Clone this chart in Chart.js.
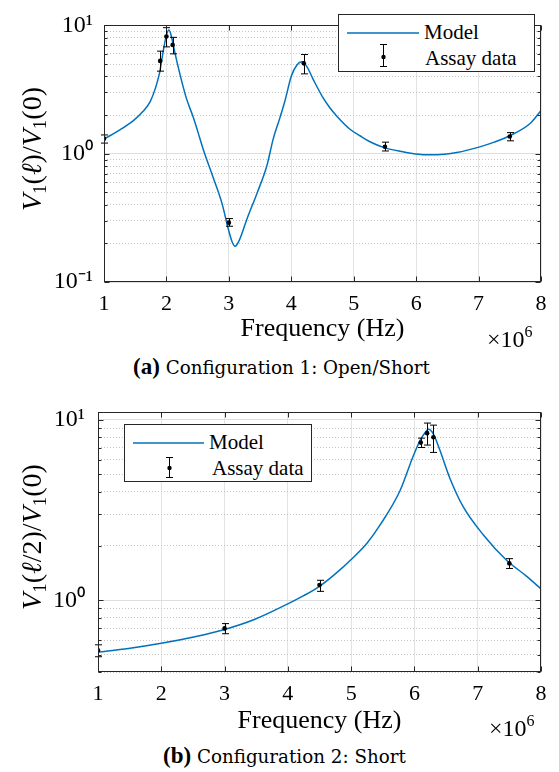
<!DOCTYPE html>
<html><head><meta charset="utf-8">
<script src="https://cdn.jsdelivr.net/npm/chart.js@4.4.1/dist/chart.umd.min.js"></script>
<style>
body{margin:0;background:#fff;width:559px;height:772px;position:relative;overflow:hidden;font-family:"Liberation Serif","Times New Roman",serif;color:#000}
canvas{position:absolute;left:0}
#c1{top:0}
#c2{top:385px}
.abs{position:absolute;white-space:nowrap}
.ylab{font-size:28px;transform:translate(-50%,-50%) rotate(-90deg);}
.ylab sub{font-size:19px;vertical-align:-5px;font-style:normal}
.legend{position:absolute;border:1px solid #262626;background:#fff;box-sizing:border-box}
.legend .t{position:absolute;font-size:21px;line-height:21px;white-space:nowrap}
.legend svg{position:absolute;left:0;top:0}
.times{font-size:24px}
.times sup{font-size:16px;vertical-align:10px}
.cap{font-family:"DejaVu Serif",serif;font-size:18.3px}
.cap b{font-family:"Liberation Serif","Times New Roman",serif;font-size:23px}
</style></head>
<body>
<canvas id="c1" width="559" height="345"></canvas>
<canvas id="c2" width="559" height="352"></canvas>

<div class="abs ylab" style="left:33px;top:149px"><i>V</i><sub>1</sub>(<i>ℓ</i>)/<i>V</i><sub>1</sub>(0)</div>
<div class="abs ylab" style="left:33px;top:537px"><i>V</i><sub>1</sub>(<i>ℓ</i>/2)/<i>V</i><sub>1</sub>(0)</div>

<div class="legend" style="left:338px;top:14px;width:197px;height:58px">
  <svg width="197" height="58">
    <line x1="8" y1="18" x2="80" y2="18" stroke="#0072BD" stroke-width="1.5"/>
    <line x1="44.5" y1="29" x2="44.5" y2="52" stroke="#000" stroke-width="1"/>
    <line x1="41" y1="29.5" x2="48" y2="29.5" stroke="#000" stroke-width="1"/>
    <line x1="41" y1="51.5" x2="48" y2="51.5" stroke="#000" stroke-width="1"/>
    <circle cx="44.5" cy="42" r="2.2" fill="#000"/>
  </svg>
  <div class="t" style="left:85px;top:7px">Model</div>
  <div class="t" style="left:86px;top:33px">Assay data</div>
</div>
<div class="legend" style="left:124px;top:424px;width:188px;height:58px">
  <svg width="188" height="58">
    <line x1="8" y1="18" x2="79" y2="18" stroke="#0072BD" stroke-width="1.5"/>
    <line x1="44.5" y1="32" x2="44.5" y2="53" stroke="#000" stroke-width="1"/>
    <line x1="41" y1="32.5" x2="48" y2="32.5" stroke="#000" stroke-width="1"/>
    <line x1="41" y1="52.5" x2="48" y2="52.5" stroke="#000" stroke-width="1"/>
    <circle cx="44.5" cy="43" r="2.2" fill="#000"/>
  </svg>
  <div class="t" style="left:84px;top:7px">Model</div>
  <div class="t" style="left:87px;top:33px">Assay data</div>
</div>

<div class="abs times" style="left:487px;top:323px">×10<sup>6</sup></div>
<div class="abs times" style="left:489px;top:712px">×10<sup>6</sup></div>
<div class="abs cap" style="left:133px;top:354px"><b>(a)</b> Configuration 1: Open/Short</div>
<div class="abs cap" style="left:163px;top:743px"><b>(b)</b> Configuration 2: Short</div>

<script>
// ---------- Data: Configuration 1 (Open/Short) ----------
const modelFreqA = [1.0,1.26,1.47,1.63,1.74,1.82,1.89,1.95,2.0,2.04,2.08,2.14,2.22,2.32,2.43,2.5,2.59,2.75,2.89,2.99,3.05,3.1,3.17,3.29,3.45,3.61,3.71,3.82,3.9,4.0,4.09,4.17,4.25,4.35,4.51,4.62,4.73,4.94,5.1,5.26,5.5,5.79,6.0,6.22,6.45,6.65,7.02,7.25,7.5,7.82,8.0];
const modelA     = [1.30,1.54,1.81,2.15,2.55,3.2,4.26,6.35,8.4,9.2,8.2,6.0,4.1,2.7,1.92,1.5,1.08,0.65,0.41,0.26,0.207,0.19,0.213,0.31,0.49,0.81,1.3,1.92,2.6,4.02,4.92,5.2,4.77,3.8,2.72,2.27,1.96,1.55,1.38,1.24,1.11,1.035,0.995,0.98,0.99,1.02,1.13,1.23,1.38,1.71,2.17];
const assayFreqA = [1.0,1.9,2.0,2.1,3.0,4.2,5.5,7.5];
const assayA     = [1.31,5.29,8.2,7.05,0.29,5.06,1.133,1.36];
const assayLowA  = [1.21,4.4,6.8,6.0,0.272,4.19,1.05,1.26];
const assayHighA = [1.40,6.3,9.6,8.07,0.312,5.93,1.23,1.46];

// ---------- Data: Configuration 2 (Short) ----------
const modelFreqB = [1.0,1.48,2.0,2.53,3.0,3.48,4.0,4.25,4.5,4.75,5.03,5.25,5.45,5.77,5.98,6.09,6.17,6.22,6.3,6.4,6.56,6.77,7.09,7.46,7.77,8.0];
const modelB     = [0.516,0.540,0.577,0.628,0.689,0.785,0.955,1.06,1.195,1.40,1.72,2.07,2.59,4.03,6.29,7.70,8.51,8.86,8.34,6.82,4.75,3.30,2.30,1.66,1.36,1.156];
const assayFreqB = [1.0,3.0,4.5,6.1,6.2,6.3,7.5];
const assayB     = [0.527,0.698,1.214,7.48,8.44,8.01,1.60];
const assayLowB  = [0.486,0.652,1.12,7.03,7.25,6.6,1.50];
const assayHighB = [0.566,0.742,1.29,7.92,9.6,9.35,1.70];

// ---------- Tick labels ----------
const xTicks = [1,2,3,4,5,6,7,8];
const yMajorA = [0.1,1,10];
const yMinorA = [0.2,0.3,0.4,0.5,0.6,0.7,0.8,0.9,2,3,4,5,6,7,8,9];
const yMajorB = [1,10];
const yMinorB = [0.4,0.5,0.6,0.7,0.8,0.9,2,3,4,5,6,7,8,9];
const yTickText = {'-1':'10⁻¹','0':'10⁰','1':'10¹'};

const BLUE = '#0072BD';
const AXIS = '#262626';
const SERIF = '"Liberation Serif", "Times New Roman", serif';

const errBarPlugin = {
  id: 'errbars',
  afterDatasetsDraw(chart, args, opts) {
    const {ctx, scales} = chart, x = scales.x, y = scales.y;
    ctx.save();
    ctx.strokeStyle = '#000'; ctx.lineWidth = 1;
    opts.xs.forEach((f, i) => {
      const px = Math.round(x.getPixelForValue(f)) + 0.5;
      const pl = y.getPixelForValue(opts.lo[i]);
      const ph = y.getPixelForValue(opts.hi[i]);
      ctx.beginPath();
      ctx.moveTo(px, pl); ctx.lineTo(px, ph);
      ctx.moveTo(px - 3.5, pl); ctx.lineTo(px + 3.5, pl);
      ctx.moveTo(px - 3.5, ph); ctx.lineTo(px + 3.5, ph);
      ctx.stroke();
    });
    ctx.restore();
  }
};

const boxPlugin = {
  id: 'box',
  afterDraw(chart, args, opts) {
    const {ctx, chartArea: a, scales} = chart;
    ctx.save();
    ctx.strokeStyle = AXIS; ctx.lineWidth = 1;
    const L = Math.round(a.left) + 0.5, R = Math.round(a.right) - 0.5,
          T = Math.round(a.top) + 0.5, B = Math.round(a.bottom) - 0.5;
    ctx.beginPath();
    xTicks.forEach(v => {
      const px = Math.round(scales.x.getPixelForValue(v)) + 0.5;
      ctx.moveTo(px, B); ctx.lineTo(px, B - 5);
      ctx.moveTo(px, T); ctx.lineTo(px, T + 5);
    });
    opts.major.forEach(v => {
      const py = Math.round(scales.y.getPixelForValue(v)) + 0.5;
      ctx.moveTo(L, py); ctx.lineTo(L + 5, py);
      ctx.moveTo(R, py); ctx.lineTo(R - 5, py);
    });
    opts.minor.forEach(v => {
      const py = Math.round(scales.y.getPixelForValue(v)) + 0.5;
      ctx.moveTo(L, py); ctx.lineTo(L + 3, py);
      ctx.moveTo(R, py); ctx.lineTo(R - 3, py);
    });
    ctx.stroke();
    ctx.strokeRect(L, T, R - L, B - T);
    ctx.restore();
  }
};

function makeChart(id, cfg) {
  const toXY = (xs, ys) => xs.map((v, i) => ({x: v, y: ys[i]}));
  return new Chart(document.getElementById(id), {
    type: 'line',
    data: {
      datasets: [
        {label: 'Model', data: toXY(cfg.mf, cfg.mv), borderColor: BLUE, borderWidth: 1.5,
         pointRadius: 0, fill: false, cubicInterpolationMode: 'monotone', order: 1},
        {label: 'Assay data', data: toXY(cfg.af, cfg.av), showLine: false,
         pointRadius: 2.3, pointBackgroundColor: '#000', pointBorderColor: '#000', pointBorderWidth: 0, order: 0}
      ]
    },
    options: {
      responsive: false, animation: false, devicePixelRatio: 1,
      layout: {padding: {left: 0, top: cfg.padTop, right: 18, bottom: 0}},
      plugins: {
        legend: {display: false}, tooltip: {enabled: false},
        errbars: {xs: cfg.af, lo: cfg.lo, hi: cfg.hi},
        box: {major: cfg.major, minor: cfg.minor}
      },
      scales: {
        x: {
          type: 'linear', min: 1, max: 8,
          afterBuildTicks: s => { s.ticks = xTicks.map(v => ({value: v})); },
          afterFit: s => { s.height = cfg.xH; },
          ticks: {color: '#000', font: {family: SERIF, size: 22}, padding: 9, maxRotation: 0},
          grid: {color: '#e3e3e3', lineWidth: 1, drawTicks: false},
          border: {display: false},
          title: {display: true, text: 'Frequency (Hz)', color: '#000',
                  font: {family: SERIF, size: 26}, padding: {top: 0, bottom: 0}}
        },
        y: {
          type: 'logarithmic', min: cfg.ymin, max: cfg.ymax, position: 'left',
          afterBuildTicks: s => { s.ticks = cfg.major.map(v => ({value: v})); },
          afterFit: s => { s.width = cfg.yW; },
          ticks: {color: '#000', font: {family: SERIF, size: 24}, padding: cfg.yPad, autoSkip: false,
                  callback: v => yTickText[String(Math.round(Math.log10(v)))]},
          grid: {color: '#dedede', lineWidth: 1, drawTicks: false},
          border: {display: false}
        },
        yMinor: {
          type: 'logarithmic', min: cfg.ymin, max: cfg.ymax, position: 'left',
          afterBuildTicks: s => { s.ticks = cfg.minor.map(v => ({value: v})); },
          afterFit: s => { s.width = 0; },
          ticks: {display: false},
          grid: {color: '#c4c4c4', lineWidth: 1, drawTicks: false},
          border: {display: false, dash: [1, 2]}
        }
      }
    },
    plugins: [errBarPlugin, boxPlugin]
  });
}

makeChart('c1', {mf: modelFreqA, mv: modelA, af: assayFreqA, av: assayA, lo: assayLowA, hi: assayHighA,
  ymin: 0.1, ymax: 10, major: yMajorA, minor: yMinorA, padTop: 13, xH: 63, yW: 104, yPad: 11});
makeChart('c2', {mf: modelFreqB, mv: modelB, af: assayFreqB, av: assayB, lo: assayLowB, hi: assayHighB,
  ymin: 0.4, ymax: 11, major: yMajorB, minor: yMinorB, padTop: 15, xH: 65, yW: 98, yPad: 13});
</script>
</body></html>
